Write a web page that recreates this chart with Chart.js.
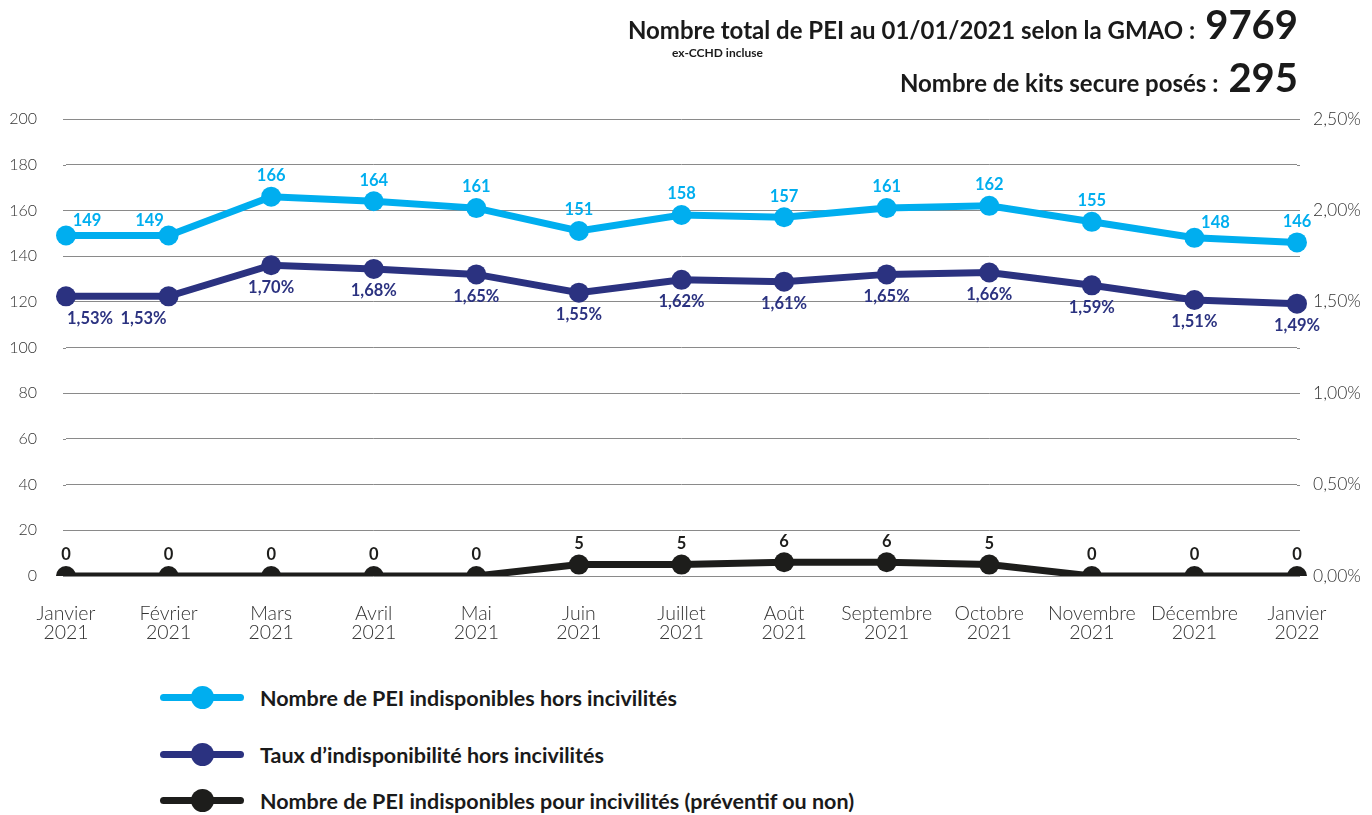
<!DOCTYPE html>
<html lang="fr">
<head>
<meta charset="utf-8">
<script src="https://cdn.jsdelivr.net/npm/chart.js@4/dist/chart.umd.min.js"></script>
<style>
  body { margin: 0; background: #fff; width: 1372px; height: 815px; overflow: hidden; font-family: Lato, "Noto Sans", sans-serif; color: #1a1a1a; }
  #wrap { position: absolute; left: 0; top: 0; width: 1372px; height: 660px; }
  .head { position: absolute; right: 74px; font-weight: 700; white-space: nowrap; line-height: 1; }
  .head .lbl { font-size: 24px; }
  .head .big { font-size: 40px; margin-left: 10px; }
  #h1 { top: 4px; }
  #h2 { top: 57px; }
  #sub { position: absolute; left: 672px; top: 45px; font-size: 12px; font-weight: 700; }
  .leg { position: absolute; left: 160px; height: 30px; display: flex; align-items: center; font-weight: 700; font-size: 21.5px; }
  .leg .sym { position: relative; width: 84px; height: 30px; margin-right: 16px; }
  .leg .sym .ln { position: absolute; left: 0; top: 11px; width: 84px; height: 7px; border-radius: 4px; }
  .leg .sym .dot { position: absolute; left: 31px; top: 3px; width: 23px; height: 23px; border-radius: 50%; }
</style>
</head>
<body>
<div id="wrap"><canvas id="chart"></canvas></div>
<div class="head" id="h1"><span class="lbl">Nombre total de PEI au 01/01/2021 selon la GMAO :</span><span class="big">9769</span></div>
<div id="sub">ex-CCHD incluse</div>
<div class="head" id="h2"><span class="lbl">Nombre de kits secure posés :</span><span class="big">295</span></div>
<div id="legend"></div>
<script>
// catégories (mois)
const mois = [
  ["Janvier", "2021"], ["Février", "2021"], ["Mars", "2021"], ["Avril", "2021"],
  ["Mai", "2021"], ["Juin", "2021"], ["Juillet", "2021"], ["Août", "2021"],
  ["Septembre", "2021"], ["Octobre", "2021"], ["Novembre", "2021"],
  ["Décembre", "2021"], ["Janvier", "2022"]
];
// séries
const horsIncivilites = [149, 149, 166, 164, 161, 151, 158, 157, 161, 162, 155, 148, 146];
const tauxIndispo = [1.53, 1.53, 1.70, 1.68, 1.65, 1.55, 1.62, 1.61, 1.65, 1.66, 1.59, 1.51, 1.49];
const pourIncivilites = [0, 0, 0, 0, 0, 5, 5, 6, 6, 5, 0, 0, 0];
// graduations
const ticksGauche = [0, 20, 40, 60, 80, 100, 120, 140, 160, 180, 200];
const ticksDroite = [0, 0.5, 1, 1.5, 2, 2.5];

const noms = [
  "Nombre de PEI indisponibles hors incivilités",
  "Taux d\u2019indisponibilité hors incivilités",
  "Nombre de PEI indisponibles pour incivilités (préventif ou non)"
];
const couleurs = ["#00aeef", "#2b3280", "#1d1d1b"];

// légende en html
const legend = document.getElementById("legend");
[683, 740, 786].forEach((top, i) => {
  let d = document.createElement("div");
  d.className = "leg";
  d.style.top = top + "px";
  d.innerHTML = `<div class="sym"><div class="ln" style="background:${couleurs[i]}"></div><div class="dot" style="background:${couleurs[i]}"></div></div>${noms[i]}`;
  legend.appendChild(d);
});

const pct = v => v.toFixed(2).replace(".", ",") + "%";

// étiquettes de valeurs (dx, dy en pixels)
const etiquettes = {
  id: "etiquettes",
  afterDatasetsDraw(chart) {
    const ctx = chart.ctx;
    ctx.save();
    ctx.font = "700 16.5px Lato";
    ctx.textAlign = "center";
    ctx.textBaseline = "middle";
    chart.data.datasets.forEach((ds, i) => {
      const meta = chart.getDatasetMeta(i);
      meta.data.forEach((pt, j) => {
        let dx = 0, dy = -21, txt = String(ds.data[j]);
        if (i === 0) {
          if (j === 0 || j === 11) { dx = 21; dy = -15; }
          if (j === 1) { dx = -19; dy = -15; }
        }
        if (i === 1) {
          txt = pct(ds.data[j]);
          dy = 22;
          if (j === 0) dx = 24;
          if (j === 1) dx = -25;
        }
        ctx.fillStyle = couleurs[i];
        ctx.fillText(txt, pt.x + dx, pt.y + dy);
      });
    });
    ctx.restore();
  }
};

// prolonge un peu les lignes de grille de chaque côté
const grilleLarge = {
  id: "grilleLarge",
  beforeDatasetsDraw(chart) {
    const ctx = chart.ctx, a = chart.chartArea, y = chart.scales.y;
    ctx.save();
    ctx.strokeStyle = "#8a8a8a";
    ctx.lineWidth = 1;
    ticksGauche.forEach(v => {
      const py = Math.round(y.getPixelForValue(v)) + 0.5;
      ctx.beginPath();
      ctx.moveTo(a.left - 3, py); ctx.lineTo(a.left, py);
      ctx.moveTo(a.right, py); ctx.lineTo(a.right + 3, py);
      ctx.stroke();
    });
    ctx.restore();
  }
};

const serie = (label, data, i, axe) => ({
  label: label,
  data: data,
  yAxisID: axe,
  borderColor: couleurs[i],
  backgroundColor: couleurs[i],
  borderWidth: 7,
  pointRadius: 10,
  pointHoverRadius: 10,
  pointBorderWidth: 0,
  tension: 0
});

new Chart(document.getElementById("chart"), {
  type: "line",
  data: {
    labels: mois,
    datasets: [
      serie(noms[0], horsIncivilites, 0, "y"),
      serie(noms[1], tauxIndispo, 1, "y2"),
      serie(noms[2], pourIncivilites, 2, "y")
    ]
  },
  options: {
    responsive: true,
    maintainAspectRatio: false,
    animation: false,
    layout: { padding: { top: 119, left: 0, right: 0, bottom: 0 } },
    plugins: { legend: { display: false }, tooltip: { enabled: false } },
    scales: {
      x: {
        grid: { display: false },
        border: { display: false },
        ticks: { color: "#333", font: { family: "Lato", size: 19.5, weight: 300, lineHeight: 0.98 }, padding: 20, maxRotation: 0, autoSkip: false },
        afterFit(s) { s.height = 84; }
      },
      y: {
        position: "left",
        min: 0, max: 200,
        afterBuildTicks(s) { s.ticks = ticksGauche.map(v => ({ value: v })); },
        grid: { color: "#8a8a8a", lineWidth: 1, drawTicks: false },
        border: { display: false },
        ticks: { color: "#333", font: { family: "Lato", size: 16, weight: 300 }, padding: 29 },
        afterFit(s) { s.width = 66; }
      },
      y2: {
        position: "right",
        min: 0, max: 2.5,
        afterBuildTicks(s) { s.ticks = ticksDroite.map(v => ({ value: v })); },
        grid: { display: false, drawTicks: false },
        border: { display: false },
        ticks: { color: "#333", font: { family: "Lato", size: 17.5, weight: 300 }, padding: 16, callback: v => pct(v) },
        afterFit(s) { s.width = 75; }
      }
    }
  },
  plugins: [grilleLarge, etiquettes]
});
</script>
</body>
</html>
